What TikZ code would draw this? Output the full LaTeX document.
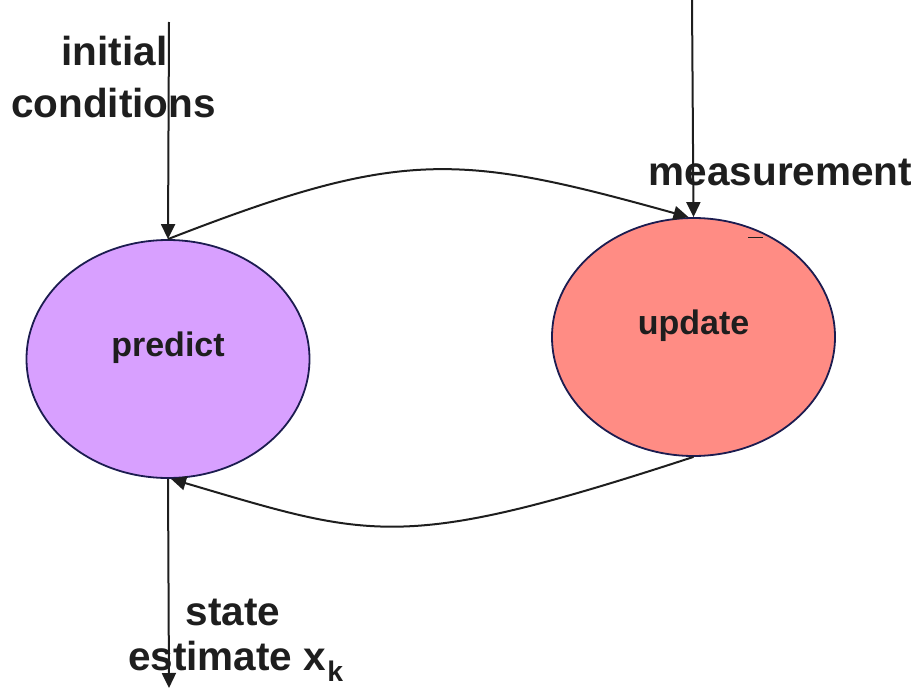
\documentclass[tikz,border=0pt]{standalone}
\usepackage{fontspec}
\setmainfont{Liberation Sans}
\usetikzlibrary{shapes.geometric,arrows.meta}
\definecolor{predictfill}{RGB}{216,160,255}
\definecolor{updatefill}{RGB}{255,140,132}
\definecolor{rimcol}{RGB}{28,28,80}
\definecolor{inkcol}{RGB}{30,30,30}
\begin{document}
\begin{tikzpicture}[x=1pt,y=-1pt,
  stateell/.style={ellipse,draw=rimcol,line width=1.8pt,minimum width=283pt,minimum height=238pt,inner sep=0pt},
  elllabel/.style={font=\fontsize{34}{40}\selectfont\bfseries,text=inkcol,inner sep=0pt},
  biglabel/.style={font=\fontsize{40.5}{48}\selectfont\bfseries,text=inkcol,inner sep=0pt,anchor=base},
  conn/.style={draw=inkcol,line width=2pt,-{Triangle[length=15pt,width=14pt]}}]
\useasboundingbox (0,0) rectangle (919,688);
\node[stateell,fill=predictfill] (predict) at (168,359) {};
\node[stateell,fill=updatefill] (update) at (693.5,337) {};
\node[elllabel] (predictlbl) at ([yshift=11pt]predict.center) {predict};
\node[elllabel] (updatelbl) at ([yshift=11pt]update.center) {update};
\node[biglabel] (ic1) at (114.5,65) {initial};
\node[biglabel] (ic2) at (113.5,117) {conditions};
\node[biglabel] (meas) at (780.5,185) {measurement};
\node[biglabel] (st1) at (233,625) {state};
\node[biglabel,anchor=base west] (st2) at (128,670) {estimate x\kern1pt\textsubscript{k}};
\coordinate (icsrc) at (169,22);
\coordinate (meassrc) at (692,0);
\coordinate (outend) at (169,688);
\draw[conn] (icsrc) -- (predict.north);
\draw[conn] (meassrc) -- (update.north);
\draw[conn] (predict.south) -- (outend);
\draw[conn] (predict.north) .. controls (402,148) and (458,153) .. ([xshift=-5pt]update.north);
\draw[conn] (update.south) .. controls (400,553) and (372,538) .. ([xshift=3pt]predict.south);
\draw[inkcol,line width=1pt] (748,237) -- (763,237);
\end{tikzpicture}
\end{document}
